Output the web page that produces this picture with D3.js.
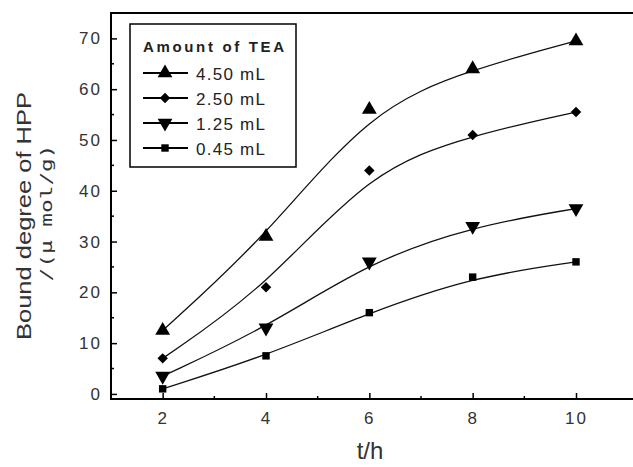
<!DOCTYPE html>
<html>
<head>
<meta charset="utf-8">
<script src="https://cdn.jsdelivr.net/npm/d3@7"></script>
<style>
  body { margin: 0; background: #fff; overflow: hidden; }
  svg { display: block; font-family: "Liberation Sans", Arial, sans-serif; }
</style>
</head>
<body>
<div id="chart"></div>
<script>
// data
const hours = [2, 4, 6, 8, 10];
const seriesNames = ["4.50 mL", "2.50 mL", "1.25 mL", "0.45 mL"];
const tea450 = [12.5, 31, 56, 64, 69.5];
const tea250 = [7, 21, 44, 51, 55.5];
const tea125 = [3.5, 13, 26, 33, 36.5];
const tea045 = [1, 7.5, 16, 23, 26];
const xTicks = [2, 4, 6, 8, 10];
const yTicks = [0, 10, 20, 30, 40, 50, 60, 70];

const symbols = [d3.symbolTriangle, d3.symbolDiamond2, "down", d3.symbolSquare];
const symSize = [95, 70, 95, 55];

const W = 633, H = 467;
const margin = {left: 111, top: 13, bottom: 68};
const width = W - margin.left,
      height = H - margin.top - margin.bottom;

const svg = d3.select("#chart").append("svg")
  .attr("width", W).attr("height", H);

const g = svg.append("g")
  .attr("transform", "translate(" + margin.left + "," + margin.top + ")");

// scales (the frame runs past the right edge of the picture)
const x = d3.scaleLinear().domain([1, 11.2]).range([0, 527]);
const y = d3.scaleLinear().domain([-1, 75]).range([height, 0]);

// frame: top, left, bottom
g.append("path")
  .attr("d", "M" + (width + 10) + ",0H0V" + height + "H" + (width + 10))
  .attr("fill", "none").attr("stroke", "#000").attr("stroke-width", 2);

// axes (ticks inside)
const xAxis = d3.axisBottom(x).tickValues(xTicks).tickSize(-6).tickPadding(13).tickFormat(d3.format("d"));
const yAxis = d3.axisLeft(y).tickValues(yTicks).tickSize(-6).tickPadding(9).tickFormat(d3.format("d"));

const gx = g.append("g").attr("transform", "translate(0," + height + ")").call(xAxis);
const gy = g.append("g").call(yAxis);
[gx, gy].forEach(a => {
  a.select(".domain").remove();
  a.selectAll("line").attr("stroke", "#000").attr("stroke-width", 1.5);
  a.selectAll("text").attr("font-size", 17).attr("letter-spacing", 2).attr("fill", "#333");
});

// minor ticks
g.append("g").selectAll("line")
  .data(d3.range(3, 11, 2))
  .join("line")
  .attr("x1", d => x(d)).attr("x2", d => x(d))
  .attr("y1", height).attr("y2", height - 3)
  .attr("stroke", "#000").attr("stroke-width", 1.5);
g.append("g").selectAll("line")
  .data(d3.range(5, 75, 10))
  .join("line")
  .attr("y1", d => y(d)).attr("y2", d => y(d))
  .attr("x1", 0).attr("x2", 3)
  .attr("stroke", "#000").attr("stroke-width", 1.5);

const allSeries = [tea450, tea250, tea125, tea045];

function marker(sel, i, size) {
  const s = symbols[i];
  if (s === "down") {
    sel.append("path")
      .attr("d", d3.symbol(d3.symbolTriangle, size)())
      .attr("transform", "rotate(180)");
  } else {
    sel.append("path").attr("d", d3.symbol(s, size)());
  }
}

const line = d3.line()
  .x((d, i) => x(hours[i]))
  .y(d => y(d))
  .curve(d3.curveBasis);

allSeries.forEach((vals, i) => {
  g.append("path")
    .datum(vals)
    .attr("d", line)
    .attr("fill", "none")
    .attr("stroke", "#111")
    .attr("stroke-width", 1.3);

  vals.forEach((v, j) => {
    const m = g.append("g")
      .attr("transform", "translate(" + x(hours[j]) + "," + y(v) + ")");
    marker(m, i, symSize[i]);
  });
});

// legend
const lg = svg.append("g").attr("transform", "translate(130,24)");
lg.append("rect")
  .attr("width", 166).attr("height", 143)
  .attr("fill", "#fff").attr("stroke", "#000").attr("stroke-width", 1.5);
lg.append("text")
  .attr("x", 13).attr("y", 28)
  .attr("font-size", 15).attr("font-weight", "bold")
  .attr("textLength", 141).attr("lengthAdjust", "spacing")
  .attr("fill", "#222")
  .text("Amount of TEA");

seriesNames.forEach((name, i) => {
  const ry = 49 + i * 25;
  lg.append("line")
    .attr("x1", 13).attr("x2", 58)
    .attr("y1", ry).attr("y2", ry)
    .attr("stroke", "#000").attr("stroke-width", 2);
  const m = lg.append("g").attr("transform", "translate(35," + ry + ")");
  marker(m, i, symSize[i]);
  lg.append("text")
    .attr("x", 66).attr("y", ry + 7)
    .attr("font-size", 17)
    .attr("textLength", 69).attr("lengthAdjust", "spacing")
    .attr("fill", "#222")
    .text(name);
});

// axis titles
svg.append("text")
  .attr("x", 370).attr("y", 459)
  .attr("text-anchor", "middle")
  .attr("font-size", 24)
  .attr("fill", "#333")
  .text("t/h");

svg.append("text")
  .attr("transform", "translate(31,216) rotate(-90)")
  .attr("text-anchor", "middle")
  .attr("font-size", 21)
  .attr("textLength", 248).attr("lengthAdjust", "spacingAndGlyphs")
  .attr("fill", "#333")
  .text("Bound degree of HPP");

svg.append("text")
  .attr("transform", "translate(52,213) rotate(-90)")
  .attr("text-anchor", "middle")
  .attr("font-size", 16)
  .attr("font-family", "'DejaVu Sans Mono', monospace")
  .attr("textLength", 137).attr("lengthAdjust", "spacingAndGlyphs")
  .attr("fill", "#333")
  .text("/(\u03bc mol/g)");
</script>
</body>
</html>
